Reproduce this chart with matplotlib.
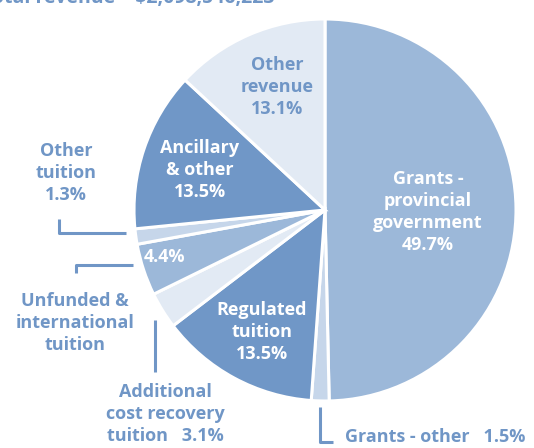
import matplotlib
matplotlib.use("Agg")
import matplotlib.pyplot as plt

plt.rcParams['font.family'] = ['Open Sans', 'DejaVu Sans']

# revenue split, clockwise from 12 o'clock
labels = ["Grants - provincial government", "Grants - other", "Regulated tuition",
          "Additional cost recovery tuition", "Unfunded & international tuition",
          "Other tuition", "Ancillary & other", "Other revenue"]
shares = [49.7, 1.5, 13.5, 3.1, 4.4, 1.3, 13.5, 13.1]
colors = ["#9cb8d9", "#c6d6ea", "#7097c7", "#e2eaf4",
          "#9cb8d9", "#c6d6ea", "#7097c7", "#e2eaf4"]

BLUE = "#7096c6"
W, H = 534, 448

fig = plt.figure(figsize=(W / 100, H / 100), dpi=100)
ax = fig.add_axes([0, 0, 1, 1])

ax.pie(shares, colors=colors, startangle=90, counterclock=False,
       center=(325, H - 210), radius=191, frame=True,
       wedgeprops=dict(edgecolor='white', linewidth=2.2))
ax.set_xlim(0, W)
ax.set_ylim(0, H)
ax.set_aspect('equal')
ax.axis('off')


def txt(x, y, s, color=BLUE, ha='center'):
    # x, y in pixels from top-left
    ax.text(x, H - y, s, color=color, ha=ha, va='center', fontsize=13,
            fontweight='bold', linespacing=1.27)


def line(xs, ys):
    ax.plot(xs, [H - y for y in ys], color=BLUE, lw=2.2, solid_capstyle='butt')


# header, cut off by the top edge as in the source
ax.text(275, H + 2, "Total revenue \u2013 $2,098,546,223", color=BLUE, ha='right',
        va='center', fontsize=14, fontweight='bold')

# labels inside the pie
txt(428, 212, "Grants -\nprovincial\ngovernment\n49.7%", color='white')
txt(262, 332, "Regulated\ntuition\n13.5%", color='white')
txt(200, 170, "Ancillary\n& other\n13.5%", color='white')
txt(164, 257, "4.4%", color='white')
txt(277, 87, "Other\nrevenue\n13.1%")

# labels outside with leader lines
txt(66, 173, "Other\ntuition\n1.3%")
line([59, 59, 126], [219, 233, 233])

txt(75, 323, "Unfunded &\ninternational\ntuition")
line([76, 76, 133], [273, 265, 265])

txt(165, 414, "Additional\ncost recovery\ntuition   3.1%")
line([155, 155], [320, 372])

txt(345, 437, "Grants - other   1.5%", ha='left')
line([333, 320, 320], [442, 442, 407])

fig.savefig("out.png", dpi=100)
